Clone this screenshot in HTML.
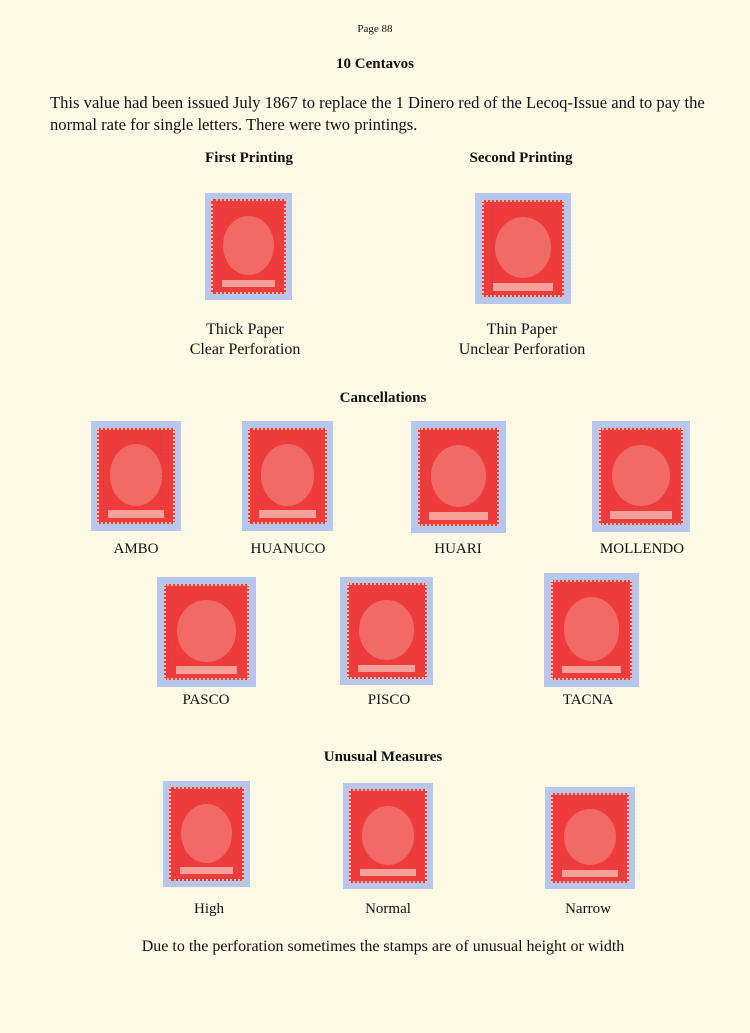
<!DOCTYPE html>
<html><head><style>
body{margin:0;width:750px;height:1033px;background:#fcfae4;font-family:"Liberation Serif",serif;color:#111;position:relative;overflow:hidden}
.t{position:absolute;white-space:nowrap;transform:translateX(-50%)}
.b{font-weight:bold}
.m{position:absolute;background:#b7c6ec}
.s{position:absolute;left:7%;top:6%;right:7%;bottom:6%;background:#ee3b3b;border:2px dotted #f7c0b0;box-sizing:border-box}
.s::before{content:"";position:absolute;left:14%;top:16%;right:14%;bottom:18%;border-radius:50%;background:#f26a66}
.s::after{content:"";position:absolute;left:12%;bottom:5%;right:12%;height:8%;background:#f7a09a}
</style></head><body>
<div class="t" style="left:375px;top:23px;font-size:11px">Page 88</div>
<div class="t b" style="left:375px;top:56px;font-size:15px">10 Centavos</div>
<div style="position:absolute;left:50px;top:92px;width:690px;font-size:16.6px;line-height:22px">This value had been issued July 1867 to replace the 1 Dinero red of the Lecoq-Issue and to pay the normal rate for single letters. There were two printings.</div>
<div class="t b" style="left:249px;top:150px;font-size:15px">First Printing</div>
<div class="t b" style="left:521px;top:150px;font-size:15px">Second Printing</div>

<div class="m" style="left:205px;top:193px;width:87px;height:107px"><div class="s"></div></div>
<div class="m" style="left:475px;top:193px;width:96px;height:111px"><div class="s"></div></div>
<div class="t" style="left:245px;top:320px;font-size:16px;text-align:center;line-height:20px">Thick Paper<br>Clear Perforation</div>
<div class="t" style="left:522px;top:320px;font-size:16px;text-align:center;line-height:20px">Thin Paper<br>Unclear Perforation</div>

<div class="t b" style="left:383px;top:390px;font-size:15px">Cancellations</div>
<div class="m" style="left:91px;top:421px;width:90px;height:110px"><div class="s"></div></div>
<div class="m" style="left:242px;top:421px;width:91px;height:110px"><div class="s"></div></div>
<div class="m" style="left:411px;top:421px;width:95px;height:112px"><div class="s"></div></div>
<div class="m" style="left:592px;top:421px;width:98px;height:111px"><div class="s"></div></div>
<div class="t" style="left:136px;top:541px;font-size:15px">AMBO</div>
<div class="t" style="left:288px;top:541px;font-size:15px">HUANUCO</div>
<div class="t" style="left:458px;top:541px;font-size:15px">HUARI</div>
<div class="t" style="left:642px;top:541px;font-size:15px">MOLLENDO</div>

<div class="m" style="left:157px;top:577px;width:99px;height:110px"><div class="s"></div></div>
<div class="m" style="left:340px;top:577px;width:93px;height:108px"><div class="s"></div></div>
<div class="m" style="left:544px;top:573px;width:95px;height:114px"><div class="s"></div></div>
<div class="t" style="left:206px;top:692px;font-size:15px">PASCO</div>
<div class="t" style="left:389px;top:692px;font-size:15px">PISCO</div>
<div class="t" style="left:588px;top:692px;font-size:15px">TACNA</div>

<div class="t b" style="left:383px;top:749px;font-size:15px">Unusual Measures</div>
<div class="m" style="left:163px;top:781px;width:87px;height:106px"><div class="s"></div></div>
<div class="m" style="left:343px;top:783px;width:90px;height:106px"><div class="s"></div></div>
<div class="m" style="left:545px;top:787px;width:90px;height:102px"><div class="s"></div></div>
<div class="t" style="left:209px;top:901px;font-size:15px">High</div>
<div class="t" style="left:388px;top:901px;font-size:15px">Normal</div>
<div class="t" style="left:588px;top:901px;font-size:15px">Narrow</div>
<div class="t" style="left:383px;top:938px;font-size:16px">Due to the perforation sometimes the stamps are of unusual height or width</div>
</body></html>
